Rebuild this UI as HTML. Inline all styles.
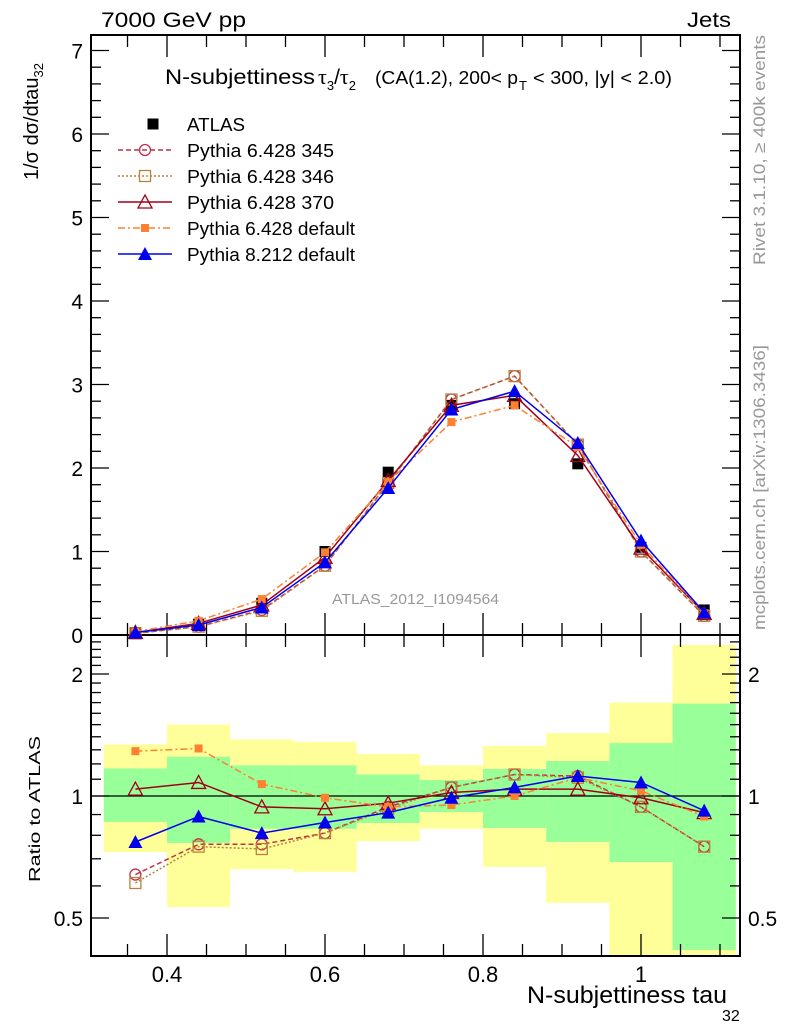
<!DOCTYPE html>
<html><head><meta charset="utf-8"><style>
html,body{margin:0;padding:0;background:#fff;}
svg{display:block;font-family:"Liberation Sans",sans-serif;}
</style></head><body>
<svg id="c" width="786" height="1024" viewBox="0 0 786 1024">
<rect x="0" y="0" width="786" height="1024" fill="#fff"/>
<g id="bands"></g>
<g id="axes"></g>
<g id="series"></g>
<text x="101" y="27" font-size="21" textLength="145" lengthAdjust="spacingAndGlyphs">7000 GeV pp</text>
<text x="687" y="27" font-size="21" textLength="44" lengthAdjust="spacingAndGlyphs">Jets</text>
<text y="84" font-size="21"><tspan x="165" textLength="150" lengthAdjust="spacingAndGlyphs">N-subjettiness</tspan><tspan x="318" font-family="Liberation Serif" font-size="22">τ</tspan><tspan font-size="13" dy="6">3</tspan><tspan dy="-6">/</tspan><tspan font-family="Liberation Serif" font-size="22">τ</tspan><tspan font-size="13" dy="6">2</tspan><tspan x="375" dy="-6" font-size="18" textLength="143" lengthAdjust="spacingAndGlyphs">(CA(1.2), 200&lt; p</tspan><tspan x="519" font-size="13" dy="6">T</tspan><tspan x="533" dy="-6" font-size="18" textLength="139" lengthAdjust="spacingAndGlyphs">&lt; 300, |y| &lt; 2.0)</tspan></text>
<text transform="translate(38,180) rotate(-90)" font-size="20">1/σ dσ/dtau<tspan font-size="13" dy="5">32</tspan></text>
<text transform="translate(40,882) rotate(-90)" font-size="16" textLength="146" lengthAdjust="spacingAndGlyphs">Ratio to ATLAS</text>
<text x="527" y="1003" font-size="24" textLength="200" lengthAdjust="spacingAndGlyphs">N-subjettiness tau</text>
<text x="722" y="1021" font-size="16">32</text>
<text x="332" y="604" font-size="15" fill="#999" textLength="167" lengthAdjust="spacingAndGlyphs">ATLAS_2012_I1094564</text>
<text transform="translate(765,265) rotate(-90)" font-size="17" fill="#999" textLength="230" lengthAdjust="spacingAndGlyphs">Rivet 3.1.10, ≥ 400k events</text>
<text transform="translate(765,630) rotate(-90)" font-size="17" fill="#999" textLength="285" lengthAdjust="spacingAndGlyphs">mcplots.cern.ch [arXiv:1306.3436]</text>
<g id="legend"></g>
</svg>
<script>
const xCenters=[0.36,0.44,0.52,0.60,0.68,0.76,0.84,0.92,1.00,1.08];
const atlasVals=[0.03,0.13,0.38,1.00,1.95,2.75,2.77,2.05,1.05,0.30];
const p345Vals=[0.02,0.10,0.30,0.83,1.82,2.82,3.10,2.28,1.00,0.23];
const p346Vals=[0.02,0.10,0.29,0.83,1.82,2.82,3.10,2.28,1.00,0.23];
const p370Vals=[0.03,0.14,0.36,0.93,1.85,2.75,2.87,2.15,1.04,0.26];
const pdefVals=[0.04,0.17,0.43,0.99,1.83,2.55,2.75,2.25,1.08,0.26];
const p8Vals=[0.03,0.12,0.33,0.87,1.76,2.70,2.92,2.30,1.13,0.27];
const p345Ratio=[0.64,0.76,0.76,0.81,0.94,1.05,1.13,1.12,0.94,0.75];
const p346Ratio=[0.61,0.75,0.74,0.81,0.93,1.05,1.13,1.11,0.94,0.75];
const p370Ratio=[1.04,1.08,0.94,0.93,0.96,1.02,1.04,1.04,0.99,0.91];
const pdefRatio=[1.29,1.31,1.07,0.99,0.94,0.95,1.00,1.11,1.03,0.89];
const p8Ratio=[0.77,0.89,0.81,0.86,0.91,0.99,1.05,1.12,1.08,0.92];
const yellowHi=[1.34,1.50,1.38,1.36,1.27,1.19,1.33,1.43,1.70,2.36];
const yellowLo=[0.727,0.532,0.66,0.65,0.774,0.83,0.668,0.545,0.38,0.38];
const greenHi=[1.17,1.25,1.19,1.19,1.13,1.095,1.166,1.22,1.35,1.69];
const greenLo=[0.863,0.766,0.83,0.83,0.858,0.913,0.834,0.77,0.687,0.417];
const binHalf=0.04;
const mainTicks=[0,1,2,3,4,5,6,7];
const ratioTicks=[0.5,1,2];
const ratioTickLabels=["0.5","1","2"];
const xTicks=[0.4,0.6,0.8,1.0];
const xTickLabels=["0.4","0.6","0.8","1"];

const L=91,R=740,T=35,MB=635,RB=956;
const NS="http://www.w3.org/2000/svg";
const X=v=>167+(v-0.4)*790;
const Y=v=>635-v*83.5;
const YR=r=>{let y=796-122*Math.log2(r);return Math.max(MB,Math.min(RB,y));};
function mk(tag,attrs,parent){const e=document.createElementNS(NS,tag);for(const k in attrs)e.setAttribute(k,attrs[k]);parent.appendChild(e);return e;}
const bands=document.getElementById('bands'),axes=document.getElementById('axes'),series=document.getElementById('series'),legend=document.getElementById('legend');

xCenters.forEach((c,i)=>{
  const y1=YR(yellowHi[i]),y2=YR(yellowLo[i]);
  const r=mk('rect',{x:X(c-binHalf),y:y1,width:X(c+binHalf)-X(c-binHalf),height:y2-y1,fill:'#ffff99'},bands);
  
  
  const g1=YR(greenHi[i]),g2=YR(greenLo[i]);
  const g=mk('rect',{x:X(c-binHalf),y:g1,width:X(c+binHalf)-X(c-binHalf),height:g2-g1,fill:'#99ff99'},bands);
  
  
});

mk('rect',{x:L,y:T,width:R-L,height:MB-T,fill:'none',stroke:'#000','stroke-width':2},axes);
mk('rect',{x:L,y:MB,width:R-L,height:RB-MB,fill:'none',stroke:'#000','stroke-width':2},axes);
mk('line',{x1:L,x2:R,y1:YR(1),y2:YR(1),stroke:'#000','stroke-width':1.3},axes);
for(let v=0;v<=7.15;v+=0.2){const y=Y(v);const maj=Math.abs(v-Math.round(v))<0.01;const len=maj?18:10;
  mk('line',{x1:L,x2:L+len,y1:y,y2:y,stroke:'#000','stroke-width':1.3},axes);
  mk('line',{x1:R,x2:R-len,y1:y,y2:y,stroke:'#000','stroke-width':1.3},axes);}
mainTicks.forEach(v=>{const t=mk('text',{x:L-8,y:Y(v)+8,'font-size':21,'text-anchor':'end'},axes);t.textContent=v;
  
  });
const rminor=[0.4,0.5,0.6,0.7,0.8,0.9,1,1.1,1.2,1.3,1.4,1.5,1.6,1.7,1.8,1.9,2,2.1,2.2,2.3,2.4];
rminor.forEach(r=>{const y=YR(r);const maj=[0.5,1,2].includes(r);const len=maj?18:10;
  mk('line',{x1:L,x2:L+len,y1:y,y2:y,stroke:'#000','stroke-width':1.3},axes);
  mk('line',{x1:R,x2:R-len,y1:y,y2:y,stroke:'#000','stroke-width':1.3},axes);});
ratioTicks.forEach((r,i)=>{
  const t=mk('text',{x:L-8,y:YR(r)+8,'font-size':21,'text-anchor':'end'},axes);t.textContent=ratioTickLabels[i];
  
  
  const t2=mk('text',{x:R+8,y:YR(r)+8,'font-size':21},axes);t2.textContent=ratioTickLabels[i];
  
  });
for(let v=0.35;v<=1.11;v+=0.05){const x=X(v);const maj=Math.abs(v*10-Math.round(v*10))<0.01&&Math.round(v*10)%2==0;const len=maj?22:12;
  [[T,1],[MB,-1],[MB,1],[RB,-1]].forEach(([y0,d])=>mk('line',{x1:x,x2:x,y1:y0,y2:y0+d*len,stroke:'#000','stroke-width':1.3},axes));}
xTicks.forEach((v,i)=>{const t=mk('text',{x:X(v),y:982,'font-size':22,'text-anchor':'middle'},axes);t.textContent=xTickLabels[i];
  
  });

function marker(kind,x,y,color,parent){
  const s=5.5;
  if(kind==='sqf')return mk('rect',{x:x-s,y:y-s,width:2*s,height:2*s,fill:color},parent);
  if(kind==='sqo')return mk('rect',{x:x-s,y:y-s,width:2*s,height:2*s,fill:'none',stroke:color,'stroke-width':1.3},parent);
  if(kind==='circ')return mk('circle',{cx:x,cy:y,r:s,fill:'none',stroke:color,'stroke-width':1.3},parent);
  if(kind==='trio')return mk('polygon',{points:`${x},${y-7} ${x-7},${y+6} ${x+7},${y+6}`,fill:'none',stroke:color,'stroke-width':1.3},parent);
  if(kind==='trif')return mk('polygon',{points:`${x},${y-7} ${x-7},${y+6} ${x+7},${y+6}`,fill:color},parent);
  if(kind==='sqfs'){return mk('rect',{x:x-4,y:y-4,width:8,height:8,fill:color},parent);}
}
const defs=[
 {name:'pythia-6428-345',label:'Pythia 6.428 345',w:147,color:'#c0304a',dash:'5,3',mk:'circ',main:p345Vals,ratio:p345Ratio},
 {name:'pythia-6428-346',label:'Pythia 6.428 346',w:147,color:'#b8823a',dash:'2,2',mk:'sqo',main:p346Vals,ratio:p346Ratio},
 {name:'pythia-6428-370',label:'Pythia 6.428 370',w:147,color:'#a00018',dash:'',mk:'trio',main:p370Vals,ratio:p370Ratio},
 {name:'pythia-6428-default',label:'Pythia 6.428 default',w:168,color:'#ff8030',dash:'7,3,2,3',mk:'sqfs',main:pdefVals,ratio:pdefRatio},
 {name:'pythia-8212-default',label:'Pythia 8.212 default',w:168,color:'#0000ee',dash:'',mk:'trif',main:p8Vals,ratio:p8Ratio}
];
const ag=mk('g',{},series);


xCenters.forEach((c,i)=>{const m=marker('sqf',X(c),Y(atlasVals[i]),'#000',ag);
  
  });
defs.forEach(d=>{
  const g=mk('g',{},series);
  
  
  const pm=xCenters.map((c,i)=>X(c)+','+Y(d.main[i])).join(' ');
  const pr=xCenters.map((c,i)=>X(c)+','+YR(d.ratio[i])).join(' ');
  const a={fill:'none',stroke:d.color,'stroke-width':1.5};if(d.dash)a['stroke-dasharray']=d.dash;
  const l1=mk('polyline',Object.assign({points:pm},a),g);
  
  
  const l2=mk('polyline',Object.assign({points:pr},a),g);
  
  
  xCenters.forEach((c,i)=>{
    const m1=marker(d.mk,X(c),Y(d.main[i]),d.color,g);
    
    
    const m2=marker(d.mk,X(c),YR(d.ratio[i]),d.color,g);
    
    
  });
});
const lgA=marker('sqf',153,124,'#000',legend);


const tA=mk('text',{x:187,y:131,'font-size':18,textLength:58,lengthAdjust:'spacingAndGlyphs'},legend);tA.textContent='ATLAS';


defs.forEach((d,i)=>{
  const y=150+i*26;
  const a={x1:118,x2:172,y1:y,y2:y,stroke:d.color,'stroke-width':1.5};if(d.dash)a['stroke-dasharray']=d.dash;
  const l=mk('line',a,legend);
  
  
  const m=marker(d.mk,145,y,d.color,legend);
  
  
  const t=mk('text',{x:187,y:y+7,'font-size':18,textLength:d.w,lengthAdjust:'spacingAndGlyphs'},legend);t.textContent=d.label;
  
  
});
</script>
</body></html>
